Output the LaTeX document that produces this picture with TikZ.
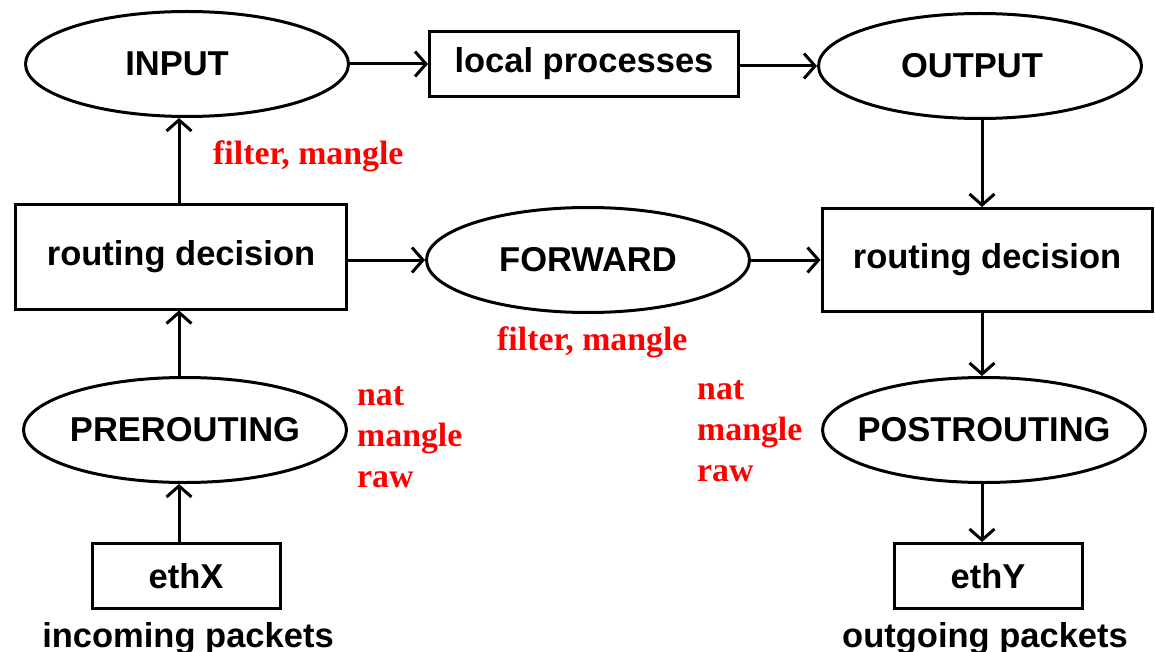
\documentclass[tikz,border=0pt]{standalone}
\usepackage{fontspec}
\setmainfont{Liberation Sans}
\newfontfamily\tablefont{Liberation Serif}
\usetikzlibrary{shapes.geometric,arrows.meta}

% zero-width label so the ellipse keeps its minimum size; optional shift
\newcommand\hooklabel[2][0pt]{\kern#1\makebox[0pt]{#2}\kern-#1}

\begin{document}
\begin{tikzpicture}[x=1pt,y=-1pt,
  every node/.style={font=\fontsize{34.5}{40}\selectfont\bfseries},
  hook/.style={draw, line width=3pt, ellipse, minimum width=323pt,
    minimum height=105pt, inner sep=0pt},
  stage/.style={draw, line width=3pt, rectangle, inner sep=0pt},
  flow/.style={line width=3pt, -{Straight Barb[length=11pt,width=25pt]}},
  tables/.style={text=red, font=\fontsize{33.8}{41}\selectfont\tablefont\bfseries,
    align=left, anchor=base west, inner sep=0pt},
  caption/.style={anchor=base, inner sep=0pt, font=\fontsize{34.5}{40}\selectfont\bfseries},
]
\useasboundingbox (0,0) rectangle (1155,652);

% chains and decision points
\node[hook] (input) at (187,64) {\hooklabel[-10pt]{INPUT}};
\node[stage, minimum width=309pt, minimum height=65pt] (local) at (584,64) {local processes};
\node[hook] (output) at (980,66) {\hooklabel[-8pt]{OUTPUT}};
\node[stage, minimum width=331pt, minimum height=104pt] (rdin) at (181,257) {routing decision};
\node[hook] (forward) at (588,260) {\hooklabel{FORWARD}};
\node[stage, minimum width=330pt, minimum height=103pt] (rdout) at (987,260) {routing decision};
\node[hook] (pre) at (185,430) {\hooklabel{PREROUTING}};
\node[hook] (post) at (984,430) {\hooklabel{POSTROUTING}};
\node[stage, minimum width=188pt, minimum height=65pt] (ethx) at (186,576) {ethX};
\node[stage, minimum width=188pt, minimum height=65pt] (ethy) at (988,576) {ethY};

% interface captions
\node[caption] (incoming) at (188,647) {incoming packets};
\node[caption] (outgoing) at (985,647) {outgoing packets};

% tables attached to each chain (base = last line)
\node[tables] (tin) at (213,165) {filter, mangle};
\node[tables] (tfwd) at (497,350) {filter, mangle};
\node[tables] (tpre) at (357,487) {nat\\mangle\\raw};
\node[tables] (tpost) at (697,481) {nat\\mangle\\raw};

% vertical lanes
\coordinate (lx) at (179,0);
\coordinate (rx) at (982,0);

% packet flow
\draw[flow] (ethx.north -| lx) -- (pre.south -| lx);
\draw[flow] (pre.north -| lx) -- (rdin.south -| lx);
\draw[flow] (rdin.north -| lx) -- (input.south -| lx);
\draw[flow] (input.east) -- (input.east -| local.west);
\draw[flow] (local.east |- output.west) -- (output.west);
\draw[flow] (output.south -| rx) -- (rdout.north -| rx);
\draw[flow] (forward.west -| rdin.east) -- (forward.west);
\draw[flow] (forward.east) -- (forward.east -| rdout.west);
\draw[flow] (rdout.south -| rx) -- (post.north -| rx);
\draw[flow] (post.south -| rx) -- (ethy.north -| rx);
\end{tikzpicture}
\end{document}
